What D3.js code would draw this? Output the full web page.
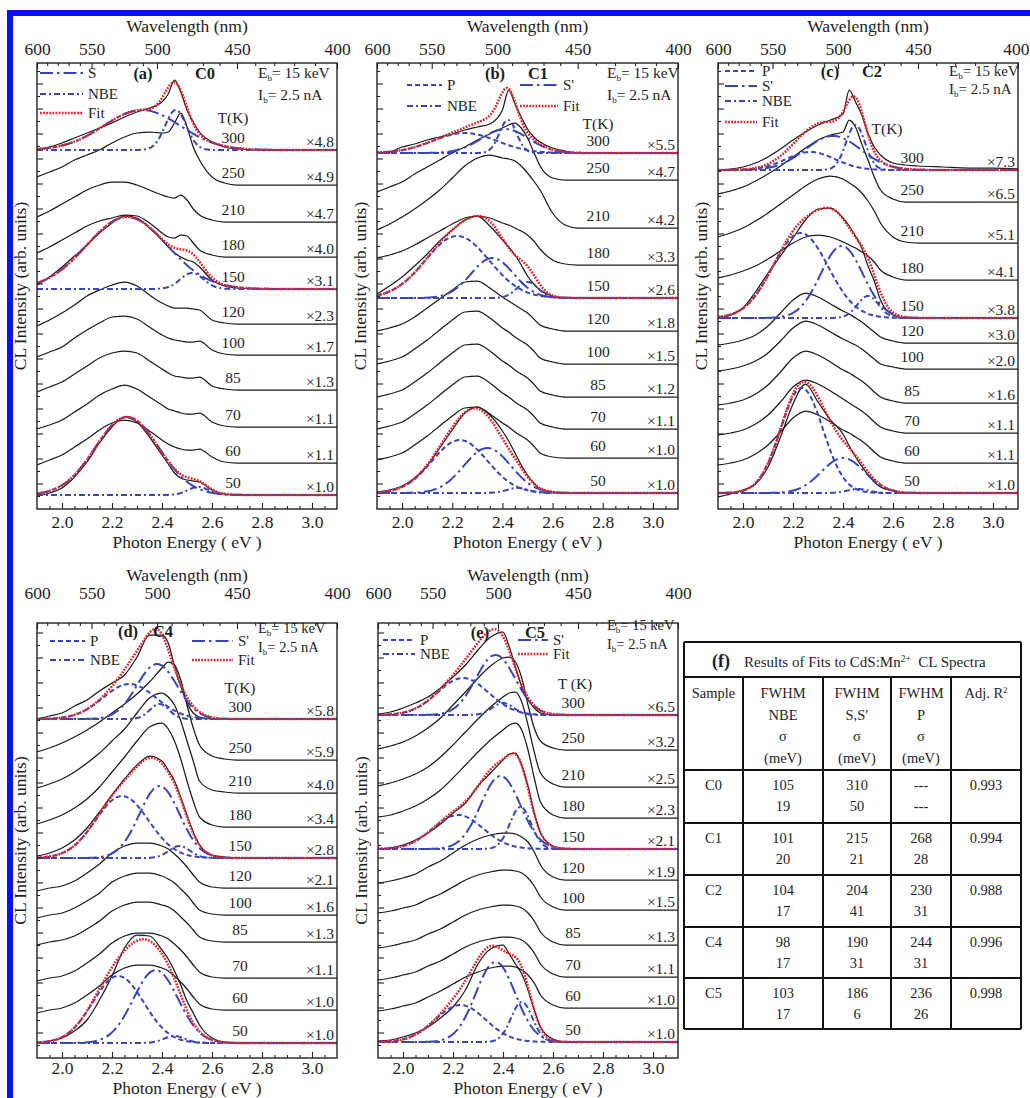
<!DOCTYPE html>
<html>
<head>
<meta charset="utf-8">
<script src="https://cdn.jsdelivr.net/npm/d3@7"></script>
<style>
  body { margin: 0; background: #fff; }
  svg { display: block; }
  text { font-family: "Liberation Serif", "Times New Roman", serif; fill: #1e1e1e; }
</style>
</head>
<body>
<svg id="fig" width="1030" height="1098"></svg>
<script>
// ---------------- shared axes / grid ----------------
const energy = [1.9, 1.95, 2.0, 2.05, 2.1, 2.15, 2.2, 2.25, 2.3, 2.35, 2.4, 2.425, 2.45, 2.475,
                2.5, 2.525, 2.55, 2.6, 2.65, 2.7, 2.8, 2.9, 3.0, 3.1];
const temperatures = [300, 250, 210, 180, 150, 120, 100, 85, 70, 60, 50];
const fittedTemperatures = [300, 150, 50];
const energyTicks = [2.0, 2.2, 2.4, 2.6, 2.8, 3.0];
const wavelengthTicks = [600, 550, 500, 450, 400];

// ---------------- C0 ----------------
const c0Offsets = [359, 324, 287, 252, 220, 185, 154, 119, 82, 46, 14];
const c0Factors = ["4.8", "4.9", "4.7", "4.0", "3.1", "2.3", "1.7", "1.3", "1.1", "1.1", "1.0"];
const c0Spectra = [
  [0,3,7,12,17,22,27,33,38,42,48,56,70,58,40,28,18,8,3,1,0,0,0,0],
  [8,13,18,25,30,35,42,48,52,53,52,53,62,72,58,38,25,8,2,0,0,0,0,0],
  [5,11,18,25,32,37,40,40,37,32,27,25,24,27,22,13,7,2,0,0,0,0,0,0],
  [4,10,17,24,31,36,39,42,41,34,24,20,19,22,21,14,7,2,0,0,0,0,0,0],
  [4,12,22,33,44,56,66,73,71,61,49,42,36,32,29,27,22,9,3,1,0,0,0,0],
  [-2,4,11,19,28,34,39,42,38,29,21,18,16,16,16,15,14,4,1,0,0,0,0,0],
  [-2,3,8,17,25,32,38,39,36,28,20,17,15,14,13,13,14,5,1,0,0,0,0,0],
  [-2,3,8,16,24,32,37,39,37,29,21,17,14,13,12,12,13,4,1,0,0,0,0,0],
  [-2,2,7,15,23,32,38,42,38,30,22,18,16,14,13,13,14,5,1,0,0,0,0,0],
  [-2,3,8,16,24,33,40,43,40,32,23,19,16,14,13,13,14,6,1,0,0,0,0,0],
  [-1,2,7,18,33,52,68,78,73,58,40,31,22,17,15,14,13,5,1,0,0,0,0,0]
];
const c0Bands = [
  {t: 300, band: "S",   center: 2.32,  fwhm: 0.36, amp: 40},
  {t: 300, band: "NBE", center: 2.455, fwhm: 0.10, amp: 40},
  {t: 150, band: "S",   center: 2.26,  fwhm: 0.38, amp: 72},
  {t: 150, band: "NBE", center: 2.52,  fwhm: 0.11, amp: 16},
  {t: 50,  band: "S",   center: 2.26,  fwhm: 0.30, amp: 78},
  {t: 50,  band: "NBE", center: 2.545, fwhm: 0.10, amp: 8}
];

// ---------------- C1 ----------------
const c1Offsets = [356, 329, 281, 244, 211, 178, 145, 112, 80, 51, 16];
const c1Factors = ["5.5", "4.7", "4.2", "3.3", "2.6", "1.8", "1.5", "1.2", "1.1", "1.0", "1.0"];
const c1Spectra = [
  [0,1,6,9,13,16,19,23,26,29,43,63,49,36,24,16,11,5,2,0,0,0,0,0],
  [-12,-7,-2,6,13,20,27,33,40,46,52,55,57,52,42,28,14,2,0,0,0,0,0,0],
  [-2,4,11,19,28,38,50,62,70,73,70,69,67,62,55,47,38,15,3,0,0,0,0,0],
  [7,10,14,20,27,34,41,47,49,47,42,40,37,34,30,24,16,5,1,0,0,0,0,0],
  [4,12,21,32,44,57,68,78,82,72,58,51,43,33,22,14,8,2,0,0,0,0,0,0],
  [0,3,7,14,23,32,41,49,50,43,34,30,26,22,18,12,6,2,0,0,0,0,0,0],
  [0,3,7,15,24,34,44,52,53,46,36,32,27,23,19,13,6,2,0,0,0,0,0,0],
  [0,3,7,15,24,34,44,52,53,46,36,32,27,23,19,13,6,2,0,0,0,0,0,0],
  [0,3,7,15,24,34,44,52,53,46,36,32,27,23,19,13,6,2,0,0,0,0,0,0],
  [-2,1,5,13,22,32,42,50,51,44,35,31,26,22,18,12,5,1,0,0,0,0,0,0],
  [1,3,7,15,27,45,63,80,86,78,62,52,40,28,18,10,4,1,0,0,0,0,0,0]
];
const c1Bands = [
  {t: 300, band: "P",   center: 2.25,  fwhm: 0.30, amp: 20},
  {t: 300, band: "S'",  center: 2.41,  fwhm: 0.22, amp: 24},
  {t: 300, band: "NBE", center: 2.422, fwhm: 0.08, amp: 33},
  {t: 150, band: "P",   center: 2.22,  fwhm: 0.30, amp: 62},
  {t: 150, band: "S'",  center: 2.36,  fwhm: 0.20, amp: 40},
  {t: 150, band: "NBE", center: 2.50,  fwhm: 0.10, amp: 16},
  {t: 50,  band: "P",   center: 2.23,  fwhm: 0.26, amp: 53},
  {t: 50,  band: "S'",  center: 2.34,  fwhm: 0.22, amp: 45},
  {t: 50,  band: "NBE", center: 2.46,  fwhm: 0.10, amp: 5}
];

// ---------------- C2 ----------------
const c2Offsets = [339, 307, 266, 229, 191, 166, 140, 106, 76, 46, 16];
const c2Factors = ["7.3", "6.5", "5.1", "4.1", "3.8", "3.0", "2.0", "1.6", "1.1", "1.1", "1.0"];
const c2Spectra = [
  [0,1,3,7,13,21,30,38,45,50,56,80,68,55,37,23,15,7,5,4,3,2,2,1],
  [8,11,15,21,28,36,45,54,62,67,70,82,75,58,42,25,12,3,0,0,0,0,0,0],
  [6,10,15,22,30,39,48,57,64,67,64,60,56,50,42,32,20,6,1,0,0,0,0,0],
  [2,5,9,14,21,29,37,43,45,43,38,35,32,28,24,18,10,3,0,0,0,0,0,0],
  [0,3,10,26,45,62,80,98,109,110,100,92,82,70,52,37,18,3,0,0,0,0,0,0],
  [-2,0,3,8,17,30,43,50,46,39,32,29,25,21,16,11,6,2,0,0,0,0,0,0],
  [-2,0,3,8,16,28,41,48,44,37,30,27,24,20,15,10,5,2,0,0,0,0,0,0],
  [-2,0,3,9,18,31,45,52,48,41,33,30,26,22,17,11,6,2,0,0,0,0,0,0],
  [-2,0,3,9,18,31,46,53,49,42,34,30,26,22,17,11,6,2,0,0,0,0,0,0],
  [-2,0,3,9,18,31,45,52,48,41,33,30,26,22,17,11,6,2,0,0,0,0,0,0],
  [-4,-1,3,9,26,56,89,109,91,73,59,47,36,27,18,11,6,2,0,0,0,0,0,0]
];
const c2Bands = [
  {t: 300, band: "P",   center: 2.27,  fwhm: 0.23,  amp: 18},
  {t: 300, band: "S'",  center: 2.36,  fwhm: 0.26,  amp: 34},
  {t: 300, band: "NBE", center: 2.45,  fwhm: 0.09,  amp: 45},
  {t: 150, band: "P",   center: 2.23,  fwhm: 0.26,  amp: 85},
  {t: 150, band: "S'",  center: 2.395, fwhm: 0.20,  amp: 72},
  {t: 150, band: "NBE", center: 2.50,  fwhm: 0.10,  amp: 22},
  {t: 50,  band: "P",   center: 2.235, fwhm: 0.20,  amp: 105},
  {t: 50,  band: "S'",  center: 2.40,  fwhm: 0.204, amp: 35},
  {t: 50,  band: "NBE", center: 2.46,  fwhm: 0.10,  amp: 4}
];

// ---------------- C4 ----------------
const c4Offsets = [339, 298, 265, 231, 200, 170, 143, 116, 80, 48, 15];
const c4Factors = ["5.8", "5.9", "4.0", "3.4", "2.8", "2.1", "1.6", "1.3", "1.1", "1.0", "1.0"];
const c4Spectra = [
  [0,3,6,13,19,28,36,44,62,84,84,76,53,33,16,6,2,0,0,0,0,0,0,0],
  [8,12,17,23,30,38,47,56,66,78,92,98,95,80,55,32,15,4,1,0,0,0,0,0],
  [5,9,14,21,30,40,52,64,80,95,100,96,88,72,52,32,12,3,1,0,0,0,0,0],
  [3,7,12,19,28,40,55,70,86,100,104,98,86,68,46,26,10,2,0,0,0,0,0,0],
  [2,5,10,18,30,46,63,79,93,102,97,88,77,61,43,26,13,3,1,0,0,0,0,0],
  [-3,0,2,7,15,24,35,42,45,45,42,39,34,28,21,13,6,1,0,0,0,0,0,0],
  [-3,0,2,7,14,22,33,39,42,42,39,36,32,26,20,12,5,1,0,0,0,0,0,0],
  [-3,0,2,6,13,21,31,37,40,40,37,35,31,25,19,12,5,1,0,0,0,0,0,0],
  [-3,0,2,7,15,24,35,42,45,45,42,39,34,28,21,13,6,1,0,0,0,0,0,0],
  [-3,0,2,7,15,24,35,42,45,45,42,39,34,28,21,13,6,1,0,0,0,0,0,0],
  [0,2,5,12,23,43,67,95,108,107,93,84,72,58,42,30,18,5,1,0,0,0,0,0]
];
const c4Bands = [
  {t: 300, band: "P",   center: 2.27,  fwhm: 0.25, amp: 35},
  {t: 300, band: "S'",  center: 2.38,  fwhm: 0.19, amp: 55},
  {t: 300, band: "NBE", center: 2.39,  fwhm: 0.09, amp: 15},
  {t: 150, band: "P",   center: 2.24,  fwhm: 0.25, amp: 62},
  {t: 150, band: "S'",  center: 2.39,  fwhm: 0.19, amp: 72},
  {t: 150, band: "NBE", center: 2.47,  fwhm: 0.10, amp: 12},
  {t: 50,  band: "P",   center: 2.225, fwhm: 0.24, amp: 67},
  {t: 50,  band: "S'",  center: 2.375, fwhm: 0.21, amp: 73},
  {t: 50,  band: "NBE", center: 2.45,  fwhm: 0.10, amp: 7}
];

// ---------------- C5 ----------------
const c5Offsets = [343, 308, 271, 240, 209, 178, 148, 113, 81, 50, 16];
const c5Factors = ["6.5", "3.2", "2.5", "2.3", "2.1", "1.9", "1.5", "1.3", "1.1", "1.0", "1.0"];
const c5Spectra = [
  [1,3,7,12,18,27,38,50,65,78,83,68,48,28,15,7,2,0,0,0,0,0,0,0],
  [1,4,8,14,22,32,45,58,72,84,92,93,88,72,45,22,9,2,0,0,0,0,0,0],
  [1,4,8,13,20,30,42,55,68,80,90,94,95,85,62,35,14,3,0,0,0,0,0,0],
  [1,3,7,12,19,28,40,53,66,78,88,93,95,88,68,40,16,3,0,0,0,0,0,0],
  [0,1,4,9,16,25,36,46,63,76,89,95,96,83,63,36,16,3,0,0,0,0,0,0],
  [-3,-1,2,6,13,19,27,35,41,45,47,47,46,43,38,28,15,3,0,0,0,0,0,0],
  [-3,-1,2,5,11,16,23,30,35,38,40,40,39,37,32,24,13,3,0,0,0,0,0,0],
  [-3,-1,2,5,11,16,23,30,35,38,40,40,39,37,32,24,13,3,0,0,0,0,0,0],
  [-3,-1,2,5,11,16,23,30,35,38,40,40,39,37,32,24,13,3,0,0,0,0,0,0],
  [-3,-1,2,5,11,17,24,31,36,40,42,42,41,38,33,25,13,3,0,0,0,0,0,0],
  [1,2,5,9,15,24,35,52,78,93,97,88,78,68,52,32,15,3,0,0,0,0,0,0]
];
const c5Bands = [
  {t: 300, band: "P",   center: 2.24,  fwhm: 0.24,  amp: 37},
  {t: 300, band: "S'",  center: 2.37,  fwhm: 0.186, amp: 60},
  {t: 300, band: "NBE", center: 2.40,  fwhm: 0.10,  amp: 12},
  {t: 150, band: "P",   center: 2.22,  fwhm: 0.236, amp: 34},
  {t: 150, band: "S'",  center: 2.39,  fwhm: 0.186, amp: 73},
  {t: 150, band: "NBE", center: 2.47,  fwhm: 0.10,  amp: 42},
  {t: 50,  band: "P",   center: 2.23,  fwhm: 0.236, amp: 37},
  {t: 50,  band: "S'",  center: 2.37,  fwhm: 0.186, amp: 80},
  {t: 50,  band: "NBE", center: 2.475, fwhm: 0.10,  amp: 40}
];

// ---------------- fit summary table ----------------
const tableSamples = ["C0", "C1", "C2", "C4", "C5"];
const fwhmNBE  = ["105", "101", "104", "98", "103"];
const sigmaNBE = ["19", "20", "17", "17", "17"];
const fwhmS    = ["310", "215", "204", "190", "186"];
const sigmaS   = ["50", "21", "41", "31", "6"];
const fwhmP    = ["---", "268", "230", "244", "236"];
const sigmaP   = ["---", "28", "31", "31", "26"];
const adjR2    = ["0.993", "0.994", "0.988", "0.996", "0.998"];

// ---------------- styles ----------------
const bandColor = "#3a46b4";
const fitColor = "#e3242b";
const bandDash = { "S": "13,4,2.5,4", "S'": "13,4,2.5,4", "NBE": "6,3,2,3", "P": "5,3" };

// ---------------- layout ----------------
const panels = [
  { key: "a", sample: "C0", frame: [37, 63, 300, 446], row: 0,
    offsets: c0Offsets, factors: c0Factors, spectra: c0Spectra, bands: c0Bands,
    legend: [{band: "S", x: 3, y: 10, len: 43}, {band: "NBE", x: 3, y: 31, len: 43}, {band: "Fit", x: 3, y: 50, len: 43}],
    tag: [106, 10], sampleAt: [168, 10], beam: [221, 10, 32], beamSize: 15.5,
    tLabelX: 196, tHead: [196, 54], tHeadText: "T(K)" },
  { key: "b", sample: "C1", frame: [377, 63, 301, 446], row: 0,
    offsets: c1Offsets, factors: c1Factors, spectra: c1Spectra, bands: c1Bands,
    legend: [{band: "P", x: 30, y: 22, len: 35}, {band: "NBE", x: 30, y: 43, len: 35},
             {band: "S'", x: 143, y: 22, len: 38}, {band: "Fit", x: 143, y: 43, len: 38}],
    tag: [118, 10], sampleAt: [161, 10], beam: [230, 10, 32], beamSize: 15.5,
    tLabelX: 221, tHead: [221, 60], tHeadText: "T(K)" },
  { key: "c", sample: "C2", frame: [718, 63, 300, 446], row: 0,
    offsets: c2Offsets, factors: c2Factors, spectra: c2Spectra, bands: c2Bands,
    legend: [{band: "P", x: 7, y: 8, len: 32}, {band: "S'", x: 7, y: 23, len: 32},
             {band: "NBE", x: 7, y: 38, len: 32}, {band: "Fit", x: 7, y: 59, len: 32}],
    tag: [112, 8], sampleAt: [154, 8], beam: [231, 8, 26], beamSize: 15,
    tLabelX: 194, tHead: [169, 65], tHeadText: "T(K)" },
  { key: "d", sample: "C4", frame: [37, 623, 300, 435], row: 1,
    offsets: c4Offsets, factors: c4Factors, spectra: c4Spectra, bands: c4Bands,
    legend: [{band: "P", x: 13, y: 18, len: 35}, {band: "NBE", x: 13, y: 37, len: 35},
             {band: "S'", x: 155, y: 18, len: 41}, {band: "Fit", x: 155, y: 37, len: 41}],
    tag: [91, 8], sampleAt: [126, 8], beam: [221, 5, 24], beamSize: 14.5,
    tLabelX: 203, tHead: [203, 64], tHeadText: "T(K)" },
  { key: "e", sample: "C5", frame: [378, 623, 300, 435], row: 1,
    offsets: c5Offsets, factors: c5Factors, spectra: c5Spectra, bands: c5Bands,
    legend: [{band: "P", x: 5, y: 17, len: 32}, {band: "NBE", x: 5, y: 31, len: 32},
             {band: "S'", x: 140, y: 17, len: 30}, {band: "Fit", x: 140, y: 31, len: 30}],
    tag: [102, 9], sampleAt: [157, 9], beam: [229, 2, 21], beamSize: 14.5,
    tLabelX: 195, tHead: [197, 60], tHeadText: "T (K)" }
];
// row-dependent spacing of the axis titles and tick labels
const rowText = [
  { topTickBase: -8,  topTitleBase: -31, botTickBase: 19, botTitleBase: 39 },
  { topTickBase: -24, topTitleBase: -42, botTickBase: 16, botTitleBase: 36 }
];
const pageWidth = 1030;

const svg = d3.select("#fig");
svg.append("rect").attr("width", 1030).attr("height", 1098).attr("fill", "#fff");

const gauss = (e, b) => {
  const s = b.fwhm / 2.3548;
  return b.amp * Math.exp(-0.5 * ((e - b.center) / s) ** 2);
};
const fineEnergy = d3.range(1.9, 3.1001, 0.004);

function styleFor(sel, band) {
  if (band === "Fit") {
    sel.attr("stroke", fitColor).attr("stroke-width", 2.5).attr("stroke-dasharray", "1.8,1.3");
  } else {
    sel.attr("stroke", bandColor).attr("stroke-width", 2).attr("stroke-dasharray", bandDash[band]);
  }
  return sel.attr("fill", "none");
}

panels.forEach(p => {
  const [fx, fy, fw, fh] = p.frame;
  const rt = rowText[p.row];
  const g = svg.append("g").attr("transform", `translate(${fx},${fy})`);
  const x = d3.scaleLinear().domain([1.9, 3.1]).range([0, fw]);
  const y = d3.scaleLinear().domain([0, fh]).range([fh, 0]);
  const xTop = d3.scaleLinear().domain([1240 / 600, 1240 / 400]).range([0, fw]);

  const clipId = "clip-" + p.key;
  g.append("clipPath").attr("id", clipId).append("rect").attr("width", fw).attr("height", fh);
  const plot = g.append("g").attr("clip-path", `url(#${clipId})`);

  const line = d3.line().x(d => x(d[0])).y(d => y(d[1])).curve(d3.curveMonotoneX);

  // measured spectra, stacked with their offsets
  p.spectra.forEach((vals, i) => {
    const pts = energy.map((e, j) => [e, p.offsets[i] + vals[j]]);
    plot.append("path").attr("d", line(pts)).attr("fill", "none")
      .attr("stroke", "#1b1b1b").attr("stroke-width", 1.25);
  });

  // fitted components and their sum
  fittedTemperatures.forEach(t => {
    const i = temperatures.indexOf(t);
    const comps = p.bands.filter(b => b.t === t);
    comps.forEach(b => {
      const pts = fineEnergy.map(e => [e, p.offsets[i] + gauss(e, b)]);
      styleFor(plot.append("path").attr("d", line(pts)), b.band);
    });
    const fitPts = fineEnergy.map(e => [e, p.offsets[i] + d3.sum(comps, b => gauss(e, b))]);
    styleFor(plot.append("path").attr("d", line(fitPts)), "Fit");
  });

  // frame
  g.append("rect").attr("width", fw).attr("height", fh).attr("fill", "none")
    .attr("stroke", "#222").attr("stroke-width", 1.4);

  // bottom energy axis (ticks point inward)
  const minorE = d3.range(1.95, 3.1, 0.05).filter(v => !energyTicks.some(t => Math.abs(t - v) < 1e-6));
  g.append("g").attr("transform", `translate(0,${fh})`)
    .call(d3.axisBottom(x).tickValues(minorE).tickSize(-3).tickFormat(""))
    .call(a => a.select(".domain").remove());
  const bottom = g.append("g").attr("transform", `translate(0,${fh})`)
    .call(d3.axisBottom(x).tickValues(energyTicks).tickSize(-6).tickFormat(d3.format(".1f")));
  bottom.select(".domain").remove();
  bottom.selectAll("text").attr("y", rt.botTickBase).attr("dy", 0)
    .attr("font-size", 17.5).attr("font-family", "Liberation Serif, serif").attr("fill", "#1e1e1e");

  // top wavelength axis
  const minorW = d3.range(410, 600, 10).filter(v => !wavelengthTicks.includes(v));
  const topMinor = g.append("g")
    .call(d3.axisTop(xTop).tickValues(minorW.map(w => 1240 / w)).tickSize(-3).tickFormat(""));
  topMinor.select(".domain").remove();
  const top = g.append("g")
    .call(d3.axisTop(xTop).tickValues(wavelengthTicks.map(w => 1240 / w)).tickSize(-6)
      .tickFormat(v => String(Math.round(1240 / v))));
  top.select(".domain").remove();
  top.selectAll("text").attr("y", rt.topTickBase).attr("dy", 0)
    .attr("font-size", 17.5).attr("font-family", "Liberation Serif, serif").attr("fill", "#1e1e1e");
  // keep the last wavelength label inside the page
  if (fx + fw + 14 > pageWidth) {
    top.selectAll(".tick").filter(v => Math.abs(v - 1240 / 400) < 1e-9).select("text")
      .attr("text-anchor", "end").attr("x", pageWidth - fx - fw - 1);
  }
  g.selectAll(".tick line").attr("stroke", "#222").attr("stroke-width", 1.1);

  // left intensity axis: unlabeled inward ticks
  const leftTicks = d3.range(12.5, fh, 12.5);
  leftTicks.forEach((v, k) => {
    g.append("line").attr("x1", 0).attr("x2", k % 2 ? 6 : 3)
      .attr("y1", y(v)).attr("y2", y(v)).attr("stroke", "#222").attr("stroke-width", 1.1);
  });

  // axis titles
  g.append("text").attr("x", fw / 2).attr("y", rt.topTitleBase).attr("text-anchor", "middle")
    .attr("font-size", 17.5).text("Wavelength (nm)");
  g.append("text").attr("x", fw / 2).attr("y", fh + rt.botTitleBase).attr("text-anchor", "middle")
    .attr("font-size", 17.5).text("Photon Energy ( eV )");
  g.append("text").attr("transform", `translate(-11,${fh / 2}) rotate(-90)`)
    .attr("text-anchor", "middle").attr("font-size", 17.5).text("CL Intensity (arb. units)");

  // temperature and scale-factor labels
  temperatures.forEach((t, i) => {
    const base = y(p.offsets[i]);
    g.append("text").attr("x", p.tLabelX).attr("y", base - 7).attr("text-anchor", "middle")
      .attr("font-size", 15.5).text(t);
    g.append("text").attr("x", fw - 3).attr("y", base - 3.5).attr("text-anchor", "end")
      .attr("font-size", 15.5).text("\u00d7" + p.factors[i]);
  });
  g.append("text").attr("x", p.tHead[0]).attr("y", p.tHead[1] + 5.5).attr("text-anchor", "middle")
    .attr("font-size", 15.5).text(p.tHeadText);

  // panel tag, sample and beam conditions
  g.append("text").attr("x", p.tag[0]).attr("y", p.tag[1] + 5.5).attr("text-anchor", "middle")
    .attr("font-size", 16.5).attr("font-weight", "bold").text(`(${p.key})`);
  g.append("text").attr("x", p.sampleAt[0]).attr("y", p.sampleAt[1] + 5.5).attr("text-anchor", "middle")
    .attr("font-size", 16.5).attr("font-weight", "bold").text(p.sample);
  const eb = g.append("text").attr("x", p.beam[0]).attr("y", p.beam[1] + 5).attr("font-size", p.beamSize);
  eb.append("tspan").text("E");
  eb.append("tspan").attr("dy", 3).attr("font-size", 9).text("b");
  eb.append("tspan").attr("dy", -3).text("= 15 keV");
  const ib = g.append("text").attr("x", p.beam[0]).attr("y", p.beam[2] + 5).attr("font-size", p.beamSize);
  ib.append("tspan").text("I");
  ib.append("tspan").attr("dy", 3).attr("font-size", 9).text("b");
  ib.append("tspan").attr("dy", -3).text("= 2.5 nA");

  // legend
  p.legend.forEach(it => {
    styleFor(g.append("line").attr("x1", it.x).attr("x2", it.x + it.len)
      .attr("y1", it.y).attr("y2", it.y), it.band);
    g.append("text").attr("x", it.x + it.len + 5).attr("y", it.y + 5)
      .attr("font-size", 15).text(it.band);
  });
});

// ---------------- table (f) ----------------
const tb = svg.append("g");
const colX = [684, 743, 823, 891, 951, 1021];
const rowY = [642, 677, 770, 823, 875, 927, 978, 1029];
const tf = 14.5;
rowY.forEach(v => tb.append("line").attr("x1", colX[0]).attr("x2", colX[5]).attr("y1", v).attr("y2", v)
  .attr("stroke", "#111").attr("stroke-width", 2));
tb.append("line").attr("x1", colX[0]).attr("x2", colX[0]).attr("y1", rowY[0]).attr("y2", rowY[7])
  .attr("stroke", "#111").attr("stroke-width", 2);
tb.append("line").attr("x1", colX[5]).attr("x2", colX[5]).attr("y1", rowY[0]).attr("y2", rowY[7])
  .attr("stroke", "#111").attr("stroke-width", 2);
colX.slice(1, 5).forEach(v => tb.append("line").attr("x1", v).attr("x2", v).attr("y1", rowY[1]).attr("y2", rowY[7])
  .attr("stroke", "#111").attr("stroke-width", 2));

const title = tb.append("text").attr("x", 712).attr("y", 667).attr("font-size", 15);
title.append("tspan").attr("font-weight", "bold").attr("font-size", 18).text("(f)");
title.append("tspan").attr("dx", 14).text("Results of Fits to CdS:Mn");
title.append("tspan").attr("dy", -5).attr("font-size", 9.5).text("2+");
title.append("tspan").attr("dy", 5).text("\u2002CL Spectra");

const colC = colX.slice(0, 5).map((v, i) => (v + colX[i + 1]) / 2);
const header = [["Sample"], ["FWHM", "NBE", "\u03c3", "(meV)"], ["FWHM", "S,S\u2032", "\u03c3", "(meV)"],
                ["FWHM", "P", "\u03c3", "(meV)"]];
header.forEach((lines, c) => lines.forEach((s, k) => {
  tb.append("text").attr("x", colC[c]).attr("y", 698 + k * 21.5).attr("text-anchor", "middle")
    .attr("font-size", tf).text(s);
}));
const r2 = tb.append("text").attr("x", colC[4]).attr("y", 698).attr("text-anchor", "middle").attr("font-size", tf);
r2.append("tspan").text("Adj. R");
r2.append("tspan").attr("dy", -5).attr("font-size", 9).text("2");

tableSamples.forEach((s, i) => {
  const top = rowY[i + 2];
  const cells = [[s], [fwhmNBE[i], sigmaNBE[i]], [fwhmS[i], sigmaS[i]], [fwhmP[i], sigmaP[i]], [adjR2[i]]];
  cells.forEach((lines, c) => lines.forEach((v, k) => {
    tb.append("text").attr("x", colC[c]).attr("y", top + 20 + k * 21).attr("text-anchor", "middle")
      .attr("font-size", tf).text(v);
  }));
});

// outer blue border
svg.append("rect").attr("x", 10).attr("y", 13).attr("width", 1040).attr("height", 1110)
  .attr("fill", "none").attr("stroke", "#0a12f2").attr("stroke-width", 6);
</script>
</body>
</html>
